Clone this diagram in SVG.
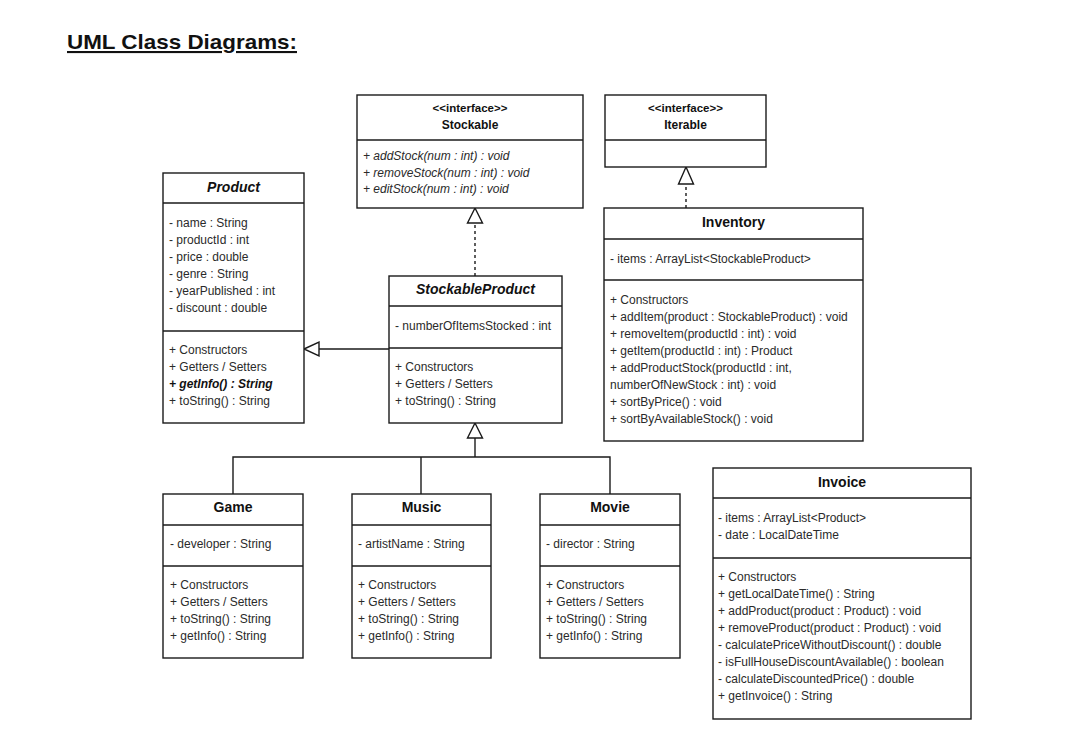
<svg xmlns="http://www.w3.org/2000/svg" width="1073" height="735" viewBox="0 0 1073 735">
<style>
  .box { fill: #ffffff; stroke: #1a1a1a; stroke-width: 1.4; }
  .div { stroke: #1a1a1a; stroke-width: 1.4; }
  .t { font-family: "Liberation Sans", Arial, sans-serif; font-size: 12px; fill: #2a2a2a; }
  .ti { font-family: "Liberation Sans", Arial, sans-serif; font-size: 12px; font-style: italic; fill: #2a2a2a; }
  .h { font-family: "Liberation Sans", Arial, sans-serif; font-size: 14px; font-weight: bold; fill: #111; text-anchor: middle; }
  .hi { font-family: "Liberation Sans", Arial, sans-serif; font-size: 14px; font-weight: bold; font-style: italic; fill: #111; text-anchor: middle; }
  .st { font-family: "Liberation Sans", Arial, sans-serif; font-size: 11.5px; font-weight: bold; fill: #111; text-anchor: middle; }
  .sn { font-family: "Liberation Sans", Arial, sans-serif; font-size: 12px; font-weight: bold; fill: #111; text-anchor: middle; }
  .bi { font-weight: bold; font-style: italic; fill: #111; }
  .line { fill: none; stroke: #1a1a1a; stroke-width: 1.4; }
  .dash { fill: none; stroke: #1a1a1a; stroke-width: 1.4; stroke-dasharray: 3 3; }
  .tri { fill: #ffffff; stroke: #1a1a1a; stroke-width: 1.4; }
</style>

<text x="67" y="49" font-family="Liberation Sans, Arial, sans-serif" font-size="21" font-weight="bold" fill="#111" text-decoration="underline" textLength="230" lengthAdjust="spacingAndGlyphs">UML Class Diagrams:</text>

<g id="connectors">
  <line class="line" x1="389" y1="349" x2="319" y2="349"/>
  <polygon class="tri" points="304,349 319,342 319,356"/>
  <line class="dash" x1="475" y1="276" x2="475" y2="223"/>
  <polygon class="tri" points="475,208 467.5,223 482.5,223"/>
  <line class="dash" x1="686" y1="208" x2="686" y2="184"/>
  <polygon class="tri" points="686,167 678.5,184 693.5,184"/>
  <polyline class="line" points="233,494 233,457 610,457 610,494"/>
  <line class="line" x1="421" y1="457" x2="421" y2="494"/>
  <line class="line" x1="475" y1="438" x2="475" y2="457"/>
  <polygon class="tri" points="475,423 467.5,438 482.5,438"/>
</g>

<g id="product">
  <rect class="box" x="163" y="173" width="141" height="250"/>
  <line class="div" x1="163" y1="203" x2="304" y2="203"/>
  <line class="div" x1="163" y1="331" x2="304" y2="331"/>
  <text class="hi" x="233.5" y="192">Product</text>
  <text class="t" x="169" y="227">- name : String</text>
  <text class="t" x="169" y="244">- productId : int</text>
  <text class="t" x="169" y="261">- price : double</text>
  <text class="t" x="169" y="278">- genre : String</text>
  <text class="t" x="169" y="295">- yearPublished : int</text>
  <text class="t" x="169" y="312">- discount : double</text>
  <text class="t" x="169" y="354">+ Constructors</text>
  <text class="t" x="169" y="371">+ Getters / Setters</text>
  <text class="t bi" x="169" y="388">+ getInfo() : String</text>
  <text class="t" x="169" y="405">+ toString() : String</text>
</g>

<g id="stockable">
  <rect class="box" x="357" y="95" width="226" height="113"/>
  <line class="div" x1="357" y1="140" x2="583" y2="140"/>
  <text class="st" x="470" y="112">&lt;&lt;interface&gt;&gt;</text>
  <text class="sn" x="470" y="129">Stockable</text>
  <text class="ti" x="363" y="160">+ addStock(num : int) : void</text>
  <text class="ti" x="363" y="176.5">+ removeStock(num : int) : void</text>
  <text class="ti" x="363" y="193">+ editStock(num : int) : void</text>
</g>

<g id="iterable">
  <rect class="box" x="605" y="95" width="161" height="72"/>
  <line class="div" x1="605" y1="140" x2="766" y2="140"/>
  <text class="st" x="685.5" y="112">&lt;&lt;interface&gt;&gt;</text>
  <text class="sn" x="685.5" y="129">Iterable</text>
</g>

<g id="stockableproduct">
  <rect class="box" x="389" y="276" width="173" height="147"/>
  <line class="div" x1="389" y1="306" x2="562" y2="306"/>
  <line class="div" x1="389" y1="348" x2="562" y2="348"/>
  <text class="hi" x="475.5" y="294">StockableProduct</text>
  <text class="t" x="395" y="330">- numberOfItemsStocked : int</text>
  <text class="t" x="395" y="371">+ Constructors</text>
  <text class="t" x="395" y="388">+ Getters / Setters</text>
  <text class="t" x="395" y="405">+ toString() : String</text>
</g>

<g id="inventory">
  <rect class="box" x="604" y="208" width="259" height="233"/>
  <line class="div" x1="604" y1="239" x2="863" y2="239"/>
  <line class="div" x1="604" y1="280" x2="863" y2="280"/>
  <text class="h" x="733.5" y="227">Inventory</text>
  <text class="t" x="610" y="263">- items : ArrayList&lt;StockableProduct&gt;</text>
  <text class="t" x="610" y="303.5">+ Constructors</text>
  <text class="t" x="610" y="320.5">+ addItem(product : StockableProduct) : void</text>
  <text class="t" x="610" y="337.5">+ removeItem(productId : int) : void</text>
  <text class="t" x="610" y="354.5">+ getItem(productId : int) : Product</text>
  <text class="t" x="610" y="371.5">+ addProductStock(productId : int,</text>
  <text class="t" x="610" y="388.5">numberOfNewStock : int) : void</text>
  <text class="t" x="610" y="405.5">+ sortByPrice() : void</text>
  <text class="t" x="610" y="422.5">+ sortByAvailableStock() : void</text>
</g>

<g id="game">
  <rect class="box" x="163" y="494" width="140" height="164"/>
  <line class="div" x1="163" y1="525" x2="303" y2="525"/>
  <line class="div" x1="163" y1="566" x2="303" y2="566"/>
  <text class="h" x="233" y="512">Game</text>
  <text class="t" x="170" y="548">- developer : String</text>
  <text class="t" x="170" y="589">+ Constructors</text>
  <text class="t" x="170" y="606">+ Getters / Setters</text>
  <text class="t" x="170" y="623">+ toString() : String</text>
  <text class="t" x="170" y="640">+ getInfo() : String</text>
</g>

<g id="music">
  <rect class="box" x="352" y="494" width="139" height="164"/>
  <line class="div" x1="352" y1="525" x2="491" y2="525"/>
  <line class="div" x1="352" y1="566" x2="491" y2="566"/>
  <text class="h" x="421.5" y="512">Music</text>
  <text class="t" x="358" y="548">- artistName : String</text>
  <text class="t" x="358" y="589">+ Constructors</text>
  <text class="t" x="358" y="606">+ Getters / Setters</text>
  <text class="t" x="358" y="623">+ toString() : String</text>
  <text class="t" x="358" y="640">+ getInfo() : String</text>
</g>

<g id="movie">
  <rect class="box" x="540" y="494" width="140" height="164"/>
  <line class="div" x1="540" y1="525" x2="680" y2="525"/>
  <line class="div" x1="540" y1="566" x2="680" y2="566"/>
  <text class="h" x="610" y="512">Movie</text>
  <text class="t" x="546" y="548">- director : String</text>
  <text class="t" x="546" y="589">+ Constructors</text>
  <text class="t" x="546" y="606">+ Getters / Setters</text>
  <text class="t" x="546" y="623">+ toString() : String</text>
  <text class="t" x="546" y="640">+ getInfo() : String</text>
</g>

<g id="invoice">
  <rect class="box" x="713" y="468" width="258" height="251"/>
  <line class="div" x1="713" y1="498" x2="971" y2="498"/>
  <line class="div" x1="713" y1="558" x2="971" y2="558"/>
  <text class="h" x="842" y="487">Invoice</text>
  <text class="t" x="718" y="522">- items : ArrayList&lt;Product&gt;</text>
  <text class="t" x="718" y="539">- date : LocalDateTime</text>
  <text class="t" x="718" y="581">+ Constructors</text>
  <text class="t" x="718" y="598">+ getLocalDateTime() : String</text>
  <text class="t" x="718" y="615">+ addProduct(product : Product) : void</text>
  <text class="t" x="718" y="632">+ removeProduct(product : Product) : void</text>
  <text class="t" x="718" y="649">- calculatePriceWithoutDiscount() : double</text>
  <text class="t" x="718" y="666">- isFullHouseDiscountAvailable() : boolean</text>
  <text class="t" x="718" y="683">- calculateDiscountedPrice() : double</text>
  <text class="t" x="718" y="700">+ getInvoice() : String</text>
</g>
</svg>
